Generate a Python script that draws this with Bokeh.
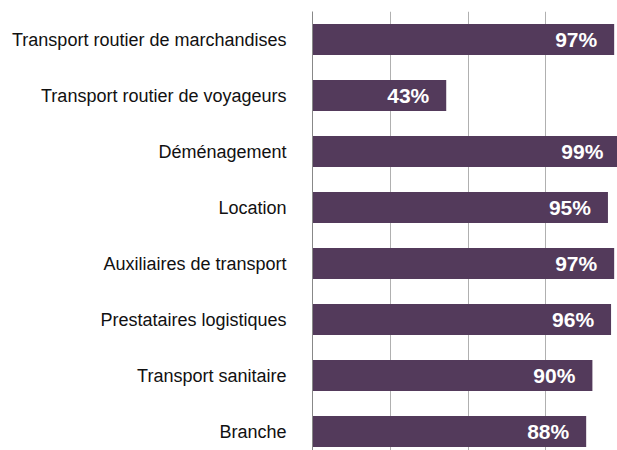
from bokeh.plotting import figure
from bokeh.models import Range1d, FixedTicker, ColumnDataSource
from bokeh.embed import file_html
from bokeh.resources import INLINE
from bokeh.core.properties import value

categories = [
    "Transport routier de marchandises",
    "Transport routier de voyageurs",
    "Déménagement",
    "Location",
    "Auxiliaires de transport",
    "Prestataires logistiques",
    "Transport sanitaire",
    "Branche",
]
values = [97, 43, 99, 95, 97, 96, 90, 88]
labels = [f"{v}%" for v in values]
positions = list(range(len(categories)))

src = ColumnDataSource(dict(y=positions, v=values, lab=labels))

W, H = 617, 450
left, top = 312, 11
px_per_pct = 3.11
band = 56

p = figure(width=W, height=H, output_backend="svg", toolbar_location=None,
           x_range=Range1d(0, (W - left) / px_per_pct),
           y_range=Range1d(-0.5 + (H - top) / band, -0.5),
           min_border_left=left, min_border_right=0, min_border_top=top, min_border_bottom=0)
p.outline_line_color = None
p.background_fill_color = "white"

p.hbar(y="y", right="v", left=0, height=0.55, source=src, color="#533a5b", line_color=None)
p.text(x="v", y="y", text="lab", source=src, text_align="right", text_baseline="middle",
       x_offset=-17, text_color="white", text_font=value("Liberation Sans"),
       text_font_style="bold", text_font_size="21px")

p.xaxis.visible = False
p.xaxis.ticker = FixedTicker(ticks=[0, 25, 50, 75, 100])
p.xgrid.ticker = FixedTicker(ticks=[25, 50, 75, 100])
p.xgrid.grid_line_color = "#b0b0b0"
p.xgrid.grid_line_width = 1
p.ygrid.grid_line_color = None

ya = p.yaxis[0]
ya.ticker = FixedTicker(ticks=positions)
ya.major_label_overrides = {i: c for i, c in zip(positions, categories)}
ya.major_tick_out = 0
ya.major_tick_in = 0
ya.minor_tick_out = 0
ya.minor_tick_in = 0
ya.axis_line_color = "#888888"
ya.major_label_standoff = 26
ya.major_label_text_font = "Liberation Sans"
ya.major_label_text_font_size = "18px"
ya.major_label_text_color = "#111111"

open("out.html", "w").write(file_html(p, INLINE))
